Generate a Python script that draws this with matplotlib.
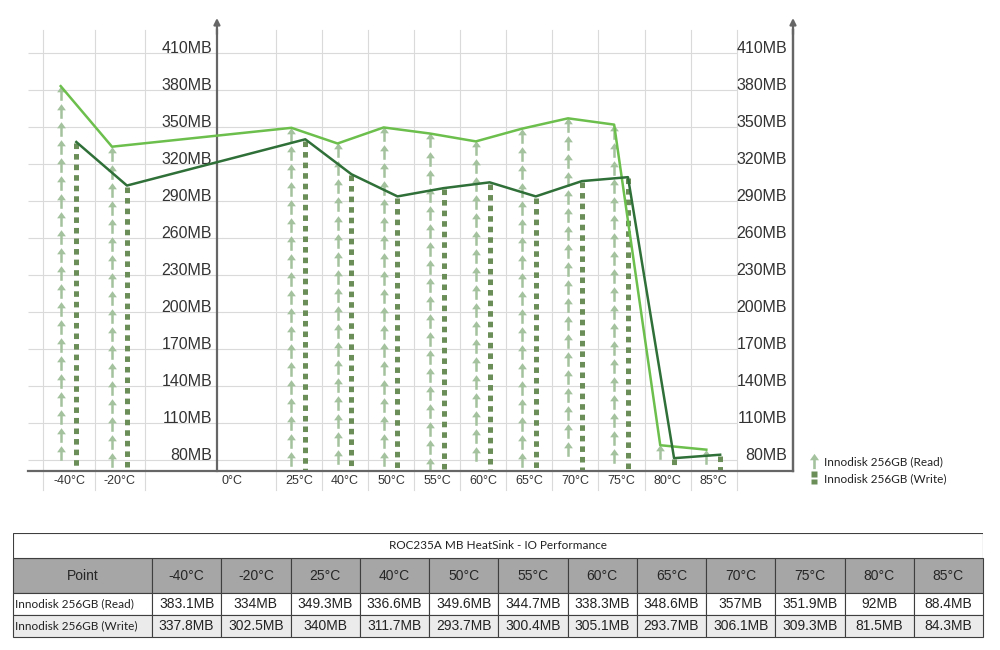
import numpy as np
import matplotlib
matplotlib.use("Agg")
import matplotlib.pyplot as plt
from matplotlib.path import Path
from matplotlib.patches import Rectangle
from matplotlib.lines import Line2D

plt.rcParams['font.family'] = ['Liberation Sans', 'DejaVu Sans']
plt.rcParams['lines.scale_dashes'] = False

# data
temps = ['-40°C', '-20°C', '25°C', '40°C', '50°C', '55°C', '60°C',
         '65°C', '70°C', '75°C', '80°C', '85°C']
read_mb = [383.1, 334, 349.3, 336.6, 349.6, 344.7, 338.3, 348.6, 357, 351.9, 92, 88.4]
write_mb = [337.8, 302.5, 340, 311.7, 293.7, 300.4, 305.1, 293.7, 306.1, 309.3, 81.5, 84.3]
read_label = 'Innodisk 256GB (Read)'
write_label = 'Innodisk 256GB (Write)'
title = 'ROC235A MB HeatSink - IO Performance'
y_ticks = list(range(80, 411, 30))

# axis columns (0°C column has no data, the value axis crosses there)
axis_cols = ['-40°C', '-20°C', '0°C'] + temps[2:]
col_w = [1.13, 1.08, 2.84] + [1.0] * 10
edges = np.concatenate([[0], np.cumsum(col_w)])
yaxis_x = 3.774
right_x = 16.27
ylo, yhi = 71.1, 428.6
px2mb = 30 / 37

read_line_c = '#6cbf4c'
write_line_c = '#2f6f38'
read_arrow_c = '#a3c29d'
write_bar_c = '#6b8e58'
grid_c = '#dadada'
axis_c = '#666666'
text_c = '#333333'

fig = plt.figure(figsize=(10, 6.5), dpi=100)
ax = fig.add_axes([0.028, 179 / 650, 0.765, 441 / 650])
ax.set_xlim(-0.325, right_x)
ax.set_ylim(ylo, yhi)

# grid
ax.hlines(y_ticks, -0.325, edges[-1], color=grid_c, lw=0.8, zorder=0)
for e in edges:
    ax.axvline(e, ymin=-19 / 441, ymax=1, color=grid_c, lw=0.8, zorder=0, clip_on=False)

# arrow marker for the read columns
arrow = Path([(0, 0.5), (0.3, 0.08), (0.085, 0.08), (0.085, -0.5), (-0.085, -0.5),
              (-0.085, 0.08), (-0.3, 0.08), (0, 0.5)],
             [Path.MOVETO] + [Path.LINETO] * 6 + [Path.CLOSEPOLY])
sq = Path([(-0.2, 0.5), (0.2, 0.5), (0.2, 0.1), (-0.2, 0.1), (-0.2, 0.5),
           (-0.2, -0.05), (0.2, -0.05), (0.2, -0.45), (-0.2, -0.45), (-0.2, -0.05)],
          [Path.MOVETO, Path.LINETO, Path.LINETO, Path.LINETO, Path.CLOSEPOLY,
           Path.MOVETO, Path.LINETO, Path.LINETO, Path.LINETO, Path.CLOSEPOLY])

col_idx = [axis_cols.index(t) for t in temps]
read_x = [edges[i] + 0.34 * col_w[i] for i in col_idx]
write_x = [edges[i] + 0.64 * col_w[i] for i in col_idx]

half = 7 * px2mb
step = 18 * px2mb
for x, v in zip(read_x, read_mb):
    ys = np.arange(v - half, ylo + half - 2, -step)
    ax.plot(np.full(len(ys), x), ys, ls='none', marker=arrow, ms=10.5,
            color=read_arrow_c, mec='none', zorder=2)
for x, v in zip(write_x, write_mb):
    ax.plot([x, x], [v - 1, ylo], color=write_bar_c, lw=3.6, dashes=(4, 3.6), zorder=2)

ax.plot(read_x, read_mb, color=read_line_c, lw=1.8, zorder=5)
ax.plot(write_x, write_mb, color=write_line_c, lw=1.8, zorder=5)

# spines
ax.spines['top'].set_visible(False)
ax.spines['left'].set_position(('data', yaxis_x))
for s in ['left', 'right', 'bottom']:
    ax.spines[s].set_color(axis_c)
    ax.spines[s].set_linewidth(1.6)
for xx, xc in [(yaxis_x, 'data'), (1.0, 'axes fraction')]:
    ax.annotate('', xy=(xx, 1 + 12 / 441), xytext=(xx, 0.99),
                xycoords=(xc, 'axes fraction'), textcoords=(xc, 'axes fraction'),
                arrowprops=dict(arrowstyle='-|>', color=axis_c, lw=1.6,
                                mutation_scale=9, shrinkA=0, shrinkB=0))

# left value axis
ax.set_yticks(y_ticks, [f'{t}MB' for t in y_ticks])
ax.tick_params(axis='y', length=0, pad=3.5, labelsize=11.5, labelcolor=text_c)
for lab in ax.get_yticklabels():
    lab.set_va('baseline')

# right value axis
ax2 = ax.twinx()
ax2.set_ylim(ylo, yhi)
for s in ['top', 'left', 'bottom']:
    ax2.spines[s].set_visible(False)
ax2.spines['right'].set_color(axis_c)
ax2.spines['right'].set_linewidth(1.6)
ax2.set_yticks(y_ticks, [f'{t}MB' for t in y_ticks])
ax2.tick_params(axis='y', length=0, pad=-4.3, labelsize=11.5, labelcolor=text_c)
for lab in ax2.get_yticklabels():
    lab.set_ha('right')
    lab.set_va('baseline')

# category axis
centers = [edges[i] + col_w[i] / 2 for i in range(len(axis_cols))]
centers[2] = yaxis_x + 0.09
ax.set_xticks(centers, axis_cols)
ax.tick_params(axis='x', length=0, pad=3, labelsize=9, labelcolor=text_c)
ax.get_xticklabels()[2].set_ha('left')

# legend
handles = [Line2D([], [], ls='none', marker=arrow, ms=11, color=read_arrow_c, mec='none'),
           Line2D([], [], ls='none', marker=sq, ms=10, color=write_bar_c, mec='none')]
fig.legend(handles, [read_label, write_label], loc='lower left',
           bbox_to_anchor=(0.80, (650 - 495) / 650), frameon=False,
           handlelength=0.6, handletextpad=0.5, labelspacing=0.5,
           prop={'family': 'Lato', 'size': 8.5}, labelcolor='#222222')

# table
tab = fig.add_axes([13 / 1000, 13 / 650, 970 / 1000, 104 / 650])
tab.axis('off')
tab.set_xlim(0, 1)
tab.set_ylim(0, 1)
tab.add_patch(Rectangle((0, 79 / 104), 1, 25 / 104, fc='white', ec='#3f3f3f', lw=0.8))
tab.text(0.5, (79 + 12.5) / 104, title, ha='center', va='center',
         family='Lato', fontsize=8.5, color='#222222')

read_str = [f'{v:g}MB' for v in read_mb]
write_str = [f'{v:g}MB' for v in write_mb]
table = tab.table(cellText=[[read_label] + read_str, [write_label] + write_str],
                  colLabels=['Point'] + temps,
                  colWidths=[139 / 970] + [831 / 970 / 12] * 12,
                  cellLoc='center', bbox=[0, 0, 1, 79 / 104])
table.auto_set_font_size(False)
table.set_fontsize(10)
for (r, c), cell in table.get_celld().items():
    cell.set_edgecolor('#3f3f3f')
    cell.set_linewidth(0.8)
    cell.set_height(35 if r == 0 else 22)
    if r == 0:
        cell.set_facecolor('#a6a6a6')
        cell.get_text().set_color('#262626')
    elif r == 1:
        cell.set_facecolor('white')
    else:
        cell.set_facecolor('#ebebeb')
    if r > 0:
        cell.get_text().set_color('#222222')
    if r > 0 and c == 0:
        cell._loc = 'left'
        cell.PAD = 0.012
        cell.get_text().set_ha('left')
        cell.get_text().set_family('Lato')
        cell.get_text().set_fontsize(8.5)

fig.savefig('out.png', dpi=100)
